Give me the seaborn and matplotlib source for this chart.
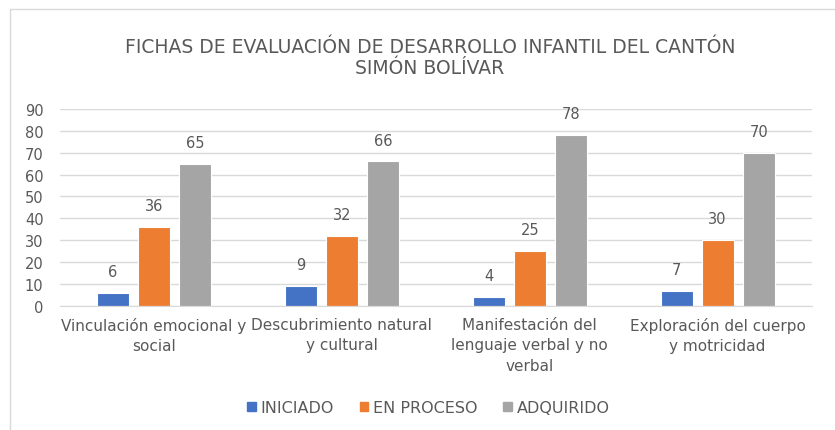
import pandas as pd
import seaborn as sns
import matplotlib.pyplot as plt
from matplotlib.lines import Line2D

categorias = ["Vinculación emocional y\nsocial", "Descubrimiento natural\ny cultural",
              "Manifestación del\nlenguaje verbal y no\nverbal", "Exploración del cuerpo\ny motricidad"]
series = ["INICIADO", "EN PROCESO", "ADQUIRIDO"]
iniciado = [6, 9, 4, 7]
en_proceso = [36, 32, 25, 30]
adquirido = [65, 66, 78, 70]
colores = ["#4472C4", "#ED7D31", "#A5A5A5"]

df = pd.DataFrame({"cat": categorias * 3,
                   "serie": [s for s in series for _ in categorias],
                   "valor": iniciado + en_proceso + adquirido})

sns.set_style("white")
plt.rcParams["font.family"] = ["DejaVu Sans"]
txt = "#595959"

fig = plt.figure(figsize=(8.35, 4.31), dpi=100)
ax = fig.add_axes([0.072, 0.288, 0.900, 0.457])

sns.barplot(data=df, x="cat", y="valor", hue="serie", palette=colores, saturation=1,
            width=0.654, gap=0.22, ax=ax, legend=False, edgecolor="white", linewidth=0.8)

for cont in ax.containers:
    ax.bar_label(cont, padding=10, fontsize=10.5, color=txt)

ax.set_ylim(0, 90)
ax.set_yticks(range(0, 91, 10))
ax.yaxis.grid(True, color="#D9D9D9", linewidth=1)
ax.set_axisbelow(True)
for s in ["top", "right", "left"]:
    ax.spines[s].set_visible(False)
ax.spines["bottom"].set_color("#D9D9D9")
ax.tick_params(axis="both", length=0, labelsize=10.5, colors=txt)
ax.tick_params(axis="x", pad=8)
ax.tick_params(axis="y", pad=12)
for lbl in ax.get_xticklabels():
    lbl.set_linespacing(1.45)
    lbl.set_fontsize(11)
ax.set_xlabel("")
ax.set_ylabel("")

fig.text(0.515, 0.865, "FICHAS DE EVALUACIÓN DE DESARROLLO INFANTIL DEL CANTÓN\nSIMÓN BOLÍVAR",
         ha="center", va="center", fontsize=13.5, color=txt, linespacing=1.1)

handles = [plt.Rectangle((0, 0), 1, 1, color=c) for c in colores]
fig.legend(handles, series, loc="center", bbox_to_anchor=(0.513, 0.052), ncol=3,
           frameon=False, fontsize=11.5, labelcolor=txt, handlelength=0.55,
           handleheight=0.55, handletextpad=0.3, columnspacing=1.6)

# chart border
fig.add_artist(Line2D([0.012, 1.0], [0.977, 0.977], color="#D9D9D9", lw=1, transform=fig.transFigure))
fig.add_artist(Line2D([0.012, 0.012], [0.0, 0.977], color="#D9D9D9", lw=1, transform=fig.transFigure))

fig.savefig("out.png", dpi=100)
